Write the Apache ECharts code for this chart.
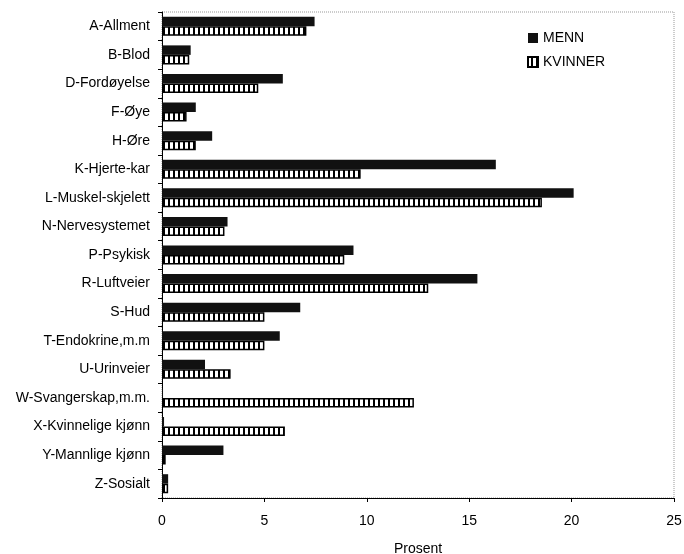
<!DOCTYPE html>
<html>
<head>
<meta charset="utf-8">
<script src="https://cdn.jsdelivr.net/npm/echarts@6/dist/echarts.min.js"></script>
<style>
  html, body { margin: 0; padding: 0; background: #fff; }
  #chart { width: 684px; height: 554px; }
</style>
</head>
<body>
<div id="chart"></div>
<script>
// Diagnosis groups (ICPC chapters), top to bottom
const categories = [
  'A-Allment', 'B-Blod', 'D-Fordøyelse', 'F-Øye', 'H-Øre', 'K-Hjerte-kar',
  'L-Muskel-skjelett', 'N-Nervesystemet', 'P-Psykisk', 'R-Luftveier', 'S-Hud',
  'T-Endokrine,m.m', 'U-Urinveier', 'W-Svangerskap,m.m.', 'X-Kvinnelige kjønn',
  'Y-Mannlige kjønn', 'Z-Sosialt'
];
// Share of contacts, percent
const menn = [7.45, 1.4, 5.9, 1.65, 2.45, 16.3, 20.1, 3.2, 9.35, 15.4, 6.75, 5.75, 2.1, 0.05, 0.1, 3.0, 0.3];
const kvinner = [7.05, 1.33, 4.7, 1.2, 1.65, 9.7, 18.55, 3.05, 8.9, 13.0, 5.0, 5.0, 3.35, 12.3, 6.0, 0.18, 0.3];
const xTicks = [0, 5, 10, 15, 20, 25];

// Vertical stripe fill for the KVINNER bars
function stripePattern() {
  const c = document.createElement('canvas');
  c.width = 5; c.height = 10;
  const g = c.getContext('2d');
  g.fillStyle = '#fff';
  g.fillRect(0, 0, 5, 10);
  g.fillStyle = '#000';
  g.fillRect(3, 0, 2, 10);
  return { image: c, repeat: 'repeat' };
}

const font = 'Liberation Sans, Arial, sans-serif';
const chart = echarts.init(document.getElementById('chart'), null, { renderer: 'canvas' });

chart.setOption({
  animation: false,
  backgroundColor: '#fff',
  grid: {
    left: 162, right: 10, top: 12, bottom: 56,
    outerBoundsMode: 'none', containLabel: false,
    show: true, borderColor: '#999', borderType: 'dotted', borderWidth: 1
  },
  legend: {
    orient: 'vertical',
    left: 522, top: 26,
    icon: 'rect',
    itemWidth: 10, itemHeight: 10, itemGap: 10,
    textStyle: { fontFamily: font, fontSize: 14, color: '#000' },
    data: ['MENN', 'KVINNER']
  },
  xAxis: {
    type: 'value',
    min: xTicks[0], max: xTicks[xTicks.length - 1], interval: 5,
    name: 'Prosent', nameLocation: 'middle', nameGap: 44,
    nameTextStyle: { fontFamily: font, fontSize: 14, color: '#000' },
    axisLine: { show: true, lineStyle: { color: '#000', width: 1 } },
    axisTick: { show: true, length: 4, lineStyle: { color: '#000' } },
    axisLabel: { fontFamily: font, fontSize: 14, color: '#000', margin: 16 },
    splitLine: { show: false }
  },
  yAxis: {
    type: 'category',
    inverse: true,
    data: categories,
    axisLine: { show: true, lineStyle: { color: '#000', width: 1 } },
    axisTick: { show: true, length: 4, lineStyle: { color: '#000' } },
    axisLabel: { fontFamily: font, fontSize: 14, color: '#000', margin: 12 }
  },
  series: [
    {
      name: 'MENN', type: 'bar', data: menn,
      barWidth: 9.5, barGap: '0%',
      itemStyle: { color: '#111' }
    },
    {
      name: 'KVINNER', type: 'bar', data: kvinner,
      barWidth: 9.5,
      itemStyle: { color: stripePattern(), borderColor: '#000', borderWidth: 1.5 }
    }
  ]
});
</script>
</body>
</html>
